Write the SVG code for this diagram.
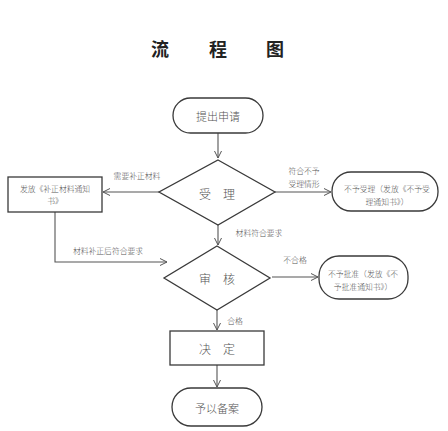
<svg xmlns="http://www.w3.org/2000/svg" width="448" height="431" viewBox="0 0 448 431">
<defs>
<marker id="arr" markerWidth="10" markerHeight="10" refX="8" refY="5" orient="auto" markerUnits="userSpaceOnUse">
<path d="M1,1.5 L8,5 L1,8.5" fill="none" stroke="#555" stroke-width="1"/>
</marker>
<style>
.shape{fill:#fff;stroke:#3a3a3a;stroke-width:1.3}
.line{fill:none;stroke:#555;stroke-width:1.1}
text{font-family:"Noto Sans CJK SC","Noto Sans CJK JP",sans-serif;fill:#555;text-anchor:middle;dominant-baseline:central;font-weight:300}
.t{font-size:11px}
.s{font-size:7.8px}
.m{font-size:12px}
.title{font-size:18px;font-weight:bold;fill:#222}
</style>
</defs>
<rect width="448" height="431" fill="#fff"/>
<g id="title">
<text class="title" x="160" y="48">流</text>
<text class="title" x="218" y="48">程</text>
<text class="title" x="275" y="48">图</text>
</g>
<g id="connectors">
<line class="line" x1="218" y1="133" x2="218" y2="158" marker-end="url(#arr)"/>
<line class="line" x1="159" y1="192" x2="103" y2="192" marker-end="url(#arr)"/>
<text class="s" x="137" y="175">需要补正材料</text>
<polyline class="line" points="55,212 55,262 167,262" marker-end="url(#arr)"/>
<text class="s" x="108" y="250">材料补正后符合要求</text>
<line class="line" x1="275" y1="192" x2="331" y2="192" marker-end="url(#arr)"/>
<text class="s" x="304" y="170">符合不予</text>
<text class="s" x="304" y="183">受理情形</text>
<line class="line" x1="218" y1="225" x2="218" y2="245" marker-end="url(#arr)"/>
<text class="s" x="259" y="232">材料符合要求</text>
<line class="line" x1="272" y1="277" x2="318" y2="277" marker-end="url(#arr)"/>
<text class="s" x="295" y="259">不合格</text>
<line class="line" x1="217" y1="310" x2="217" y2="330" marker-end="url(#arr)"/>
<text class="s" x="235" y="320">合格</text>
<line class="line" x1="217" y1="365" x2="217" y2="387" marker-end="url(#arr)"/>
</g>
<g id="start">
<rect class="shape" x="173" y="98" width="90" height="35" rx="17.5"/>
<text class="t" x="218" y="116">提出申请</text>
</g>
<g id="accept">
<polygon class="shape" points="218,160 275,192 218,225 159,192"/>
<text class="m" x="217" y="193">受　理</text>
</g>
<g id="supplement">
<rect class="shape" x="8" y="177" width="94" height="35"/>
<text class="s" x="55" y="188">发放《补正材料通知</text>
<text class="s" x="55" y="200">书》</text>
</g>
<g id="reject">
<rect class="shape" x="332" y="172" width="106" height="39" rx="19"/>
<text class="s" x="387" y="188">不予受理（发放《不予受</text>
<text class="s" x="387" y="201">理通知书》）</text>
</g>
<g id="review">
<polygon class="shape" points="217,246 270,278 217,310 164,278"/>
<text class="m" x="217" y="278">审　核</text>
</g>
<g id="deny">
<rect class="shape" x="319" y="256" width="89" height="43" rx="20"/>
<text class="s" x="363" y="273">不予批准（发放《不</text>
<text class="s" x="363" y="286">予批准通知书》）</text>
</g>
<g id="decide">
<rect class="shape" x="170" y="331" width="94" height="34"/>
<text class="m" x="217" y="348">决　定</text>
</g>
<g id="end">
<rect class="shape" x="172" y="388" width="90" height="38" rx="19"/>
<text class="t" x="217" y="408">予以备案</text>
</g>
</svg>
